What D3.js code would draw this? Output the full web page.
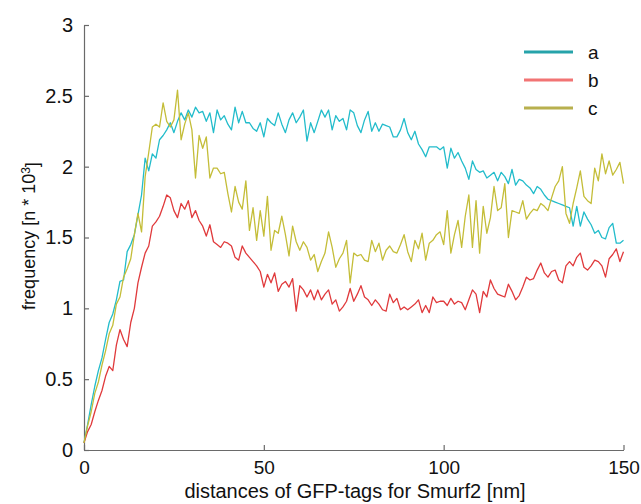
<!DOCTYPE html>
<html>
<head>
<meta charset="utf-8">
<script src="https://cdn.jsdelivr.net/npm/d3@7"></script>
<style>
  body { margin: 0; background: #fff; }
  svg { display: block; font-family: "Liberation Sans", Arial, sans-serif; }
</style>
</head>
<body>
<div id="parentdiv" style="width:641px;height:504px;"><svg id="chart"></svg></div>
<script>
const width = 641;
const height = 504;

// x positions in nm (one bin per nm)
var xValues = d3.range(0, 151);

var seriesNames = ["a", "b", "c"];
var lineColors = ["#22bccb", "#e03a3c", "#c4bd38"];
var legendColors = ["#26a3aa", "#f27474", "#b8b04e"];

var yTicks = [0, 0.5, 1, 1.5, 2, 2.5, 3];
var xTicks = [0, 50, 100, 150];

var seriesA = [0.05,0.18,0.32,0.45,0.56,0.65,0.78,0.90,0.96,1.06,
  1.19,1.20,1.40,1.45,1.52,1.66,1.80,2.06,1.97,2.09,
  2.06,2.19,2.22,2.26,2.31,2.24,2.32,2.38,2.33,2.40,
  2.35,2.42,2.38,2.39,2.32,2.38,2.24,2.40,2.33,2.36,
  2.30,2.26,2.42,2.31,2.39,2.31,2.31,2.27,2.25,2.31,
  2.21,2.34,2.31,2.29,2.38,2.30,2.24,2.33,2.38,2.31,
  2.35,2.40,2.18,2.31,2.24,2.32,2.40,2.35,2.40,2.26,
  2.36,2.32,2.34,2.26,2.40,2.38,2.29,2.24,2.33,2.39,
  2.25,2.31,2.25,2.30,2.29,2.28,2.21,2.21,2.26,2.34,
  2.24,2.19,2.25,2.16,2.12,2.07,2.14,2.14,2.14,2.12,
  2.14,1.99,2.13,2.06,2.10,2.04,1.99,1.91,2.04,1.98,
  1.96,1.97,1.92,1.94,1.96,1.90,1.96,1.93,1.88,1.98,
  1.87,1.91,1.90,1.87,1.85,1.81,1.86,1.84,1.80,1.77,
  1.76,1.75,1.74,1.73,1.72,1.71,1.58,1.72,1.58,1.68,
  1.63,1.59,1.53,1.55,1.50,1.49,1.57,1.60,1.46,1.46,
  1.48];

var seriesB = [0.05,0.13,0.18,0.27,0.35,0.42,0.52,0.59,0.56,0.74,
  0.85,0.78,0.73,0.90,1.00,1.18,1.29,1.39,1.44,1.58,
  1.61,1.65,1.72,1.80,1.78,1.69,1.64,1.74,1.70,1.76,
  1.64,1.69,1.62,1.58,1.51,1.59,1.47,1.45,1.43,1.47,
  1.46,1.44,1.36,1.34,1.44,1.39,1.36,1.33,1.30,1.26,
  1.15,1.24,1.18,1.25,1.12,1.17,1.19,1.15,1.21,0.98,
  1.16,1.13,1.08,1.13,1.06,1.13,1.06,1.10,1.13,1.03,
  1.06,0.98,1.01,1.05,1.14,1.05,1.10,1.16,1.08,1.06,
  1.02,1.06,1.03,0.99,0.98,1.10,1.04,1.07,0.99,1.01,
  0.99,1.01,1.03,1.06,0.97,1.02,0.97,1.08,1.04,1.05,
  1.05,1.02,1.07,1.03,1.05,1.04,0.99,1.06,1.13,1.10,
  0.97,1.12,1.08,1.20,1.14,1.10,1.09,1.08,1.17,1.12,
  1.06,1.09,1.15,1.22,1.20,1.21,1.27,1.32,1.25,1.22,
  1.26,1.27,1.20,1.18,1.30,1.33,1.30,1.36,1.39,1.29,
  1.27,1.30,1.34,1.33,1.30,1.22,1.35,1.38,1.42,1.33,
  1.40];

var seriesC = [0.05,0.17,0.27,0.40,0.48,0.60,0.70,0.82,0.88,1.03,
  1.08,1.22,1.28,1.35,1.52,1.67,1.54,1.93,2.10,2.28,
  2.30,2.28,2.45,2.32,2.28,2.33,2.54,2.19,2.30,2.38,
  2.26,1.92,2.22,2.13,2.21,1.92,1.99,1.99,1.95,1.96,
  1.81,1.68,1.86,1.75,1.70,1.90,1.55,1.71,1.48,1.69,
  1.51,1.79,1.41,1.55,1.53,1.65,1.52,1.37,1.58,1.47,
  1.41,1.47,1.43,1.34,1.38,1.26,1.33,1.39,1.54,1.43,
  1.29,1.35,1.39,1.48,1.18,1.39,1.37,1.38,1.34,1.33,
  1.48,1.40,1.46,1.34,1.41,1.44,1.40,1.39,1.45,1.52,
  1.40,1.33,1.48,1.42,1.53,1.34,1.46,1.48,1.52,1.54,
  1.45,1.69,1.39,1.52,1.62,1.43,1.65,1.80,1.43,1.76,
  1.39,1.72,1.53,1.64,1.86,1.69,1.71,1.88,1.50,1.69,
  1.68,1.67,1.76,1.63,1.67,1.70,1.69,1.74,1.72,1.69,
  1.78,1.86,1.90,2.00,1.67,1.60,1.74,1.85,1.97,1.79,
  1.76,1.74,1.99,1.90,2.09,1.95,2.04,1.94,1.98,2.03,
  1.88];

var allSeries = [seriesA, seriesB, seriesC];

var svg = d3.select("#chart")
    .attr("width", width)
    .attr("height", height);

var xScale = d3.scaleLinear().domain([0, 150]).range([84, 623.5]);
var yScale = d3.scaleLinear().domain([0, 3]).range([450, 25]);

// axes (ticks point into the plot)
var xAxis = d3.axisBottom(xScale)
    .tickValues(xTicks)
    .tickFormat(d3.format("d"))
    .tickSizeInner(-5)
    .tickSizeOuter(0)
    .tickPadding(11);

var yAxis = d3.axisLeft(yScale)
    .tickValues(yTicks)
    .tickFormat((d) => String(d))
    .tickSizeInner(-5)
    .tickSizeOuter(0)
    .tickPadding(11);

var gx = svg.append("g")
    .attr("class", "xAxis")
    .attr("transform", "translate(0," + yScale(0) + ")")
    .call(xAxis);

var gy = svg.append("g")
    .attr("class", "yAxis")
    .attr("transform", "translate(" + xScale(0) + ",0)")
    .call(yAxis);

[gx, gy].forEach(function (g) {
    g.select(".domain").attr("stroke", "#6a6a6a").attr("stroke-width", 1.2);
    g.selectAll(".tick line").attr("stroke", "#6a6a6a").attr("stroke-width", 1.2);
    g.selectAll(".tick text")
        .attr("fill", "#111")
        .style("font-family", "Liberation Sans, Arial, sans-serif");
});
gx.selectAll(".tick text").style("font-size", "19px");
gy.selectAll(".tick text").style("font-size", "20px");

// data lines
var line = d3.line()
    .x((d, i) => xScale(xValues[i]))
    .y((d) => yScale(d));

svg.selectAll(".series")
    .data(allSeries)
    .enter()
    .append("path")
    .attr("class", "series")
    .attr("fill", "none")
    .attr("stroke", (d, i) => lineColors[i])
    .attr("stroke-width", 1.3)
    .attr("stroke-linejoin", "round")
    .attr("d", line);

// legend
var legend = svg.append("g").attr("class", "legend");
seriesNames.forEach(function (name, i) {
    var ly = 52 + i * 28;
    legend.append("line")
        .attr("x1", 524).attr("x2", 573)
        .attr("y1", ly).attr("y2", ly)
        .attr("stroke", legendColors[i])
        .attr("stroke-width", 3);
    legend.append("text")
        .attr("x", 588)
        .attr("y", ly)
        .attr("dy", "0.35em")
        .attr("fill", "#111")
        .style("font-size", "19px")
        .text(name);
});

// axis titles
svg.append("text")
    .attr("x", 355)
    .attr("y", 498)
    .attr("text-anchor", "middle")
    .attr("fill", "#111")
    .style("font-size", "20px")
    .text("distances of GFP-tags for Smurf2 [nm]");

var ytitle = svg.append("text")
    .attr("transform", "translate(35,236) rotate(-90)")
    .attr("text-anchor", "middle")
    .attr("fill", "#111")
    .style("font-size", "18px");
ytitle.append("tspan").text("frequency [n * 10");
ytitle.append("tspan").attr("dy", "-0.45em").style("font-size", "12px").text("3");
ytitle.append("tspan").attr("dy", "0.45em").text("]");
</script>
</body>
</html>
